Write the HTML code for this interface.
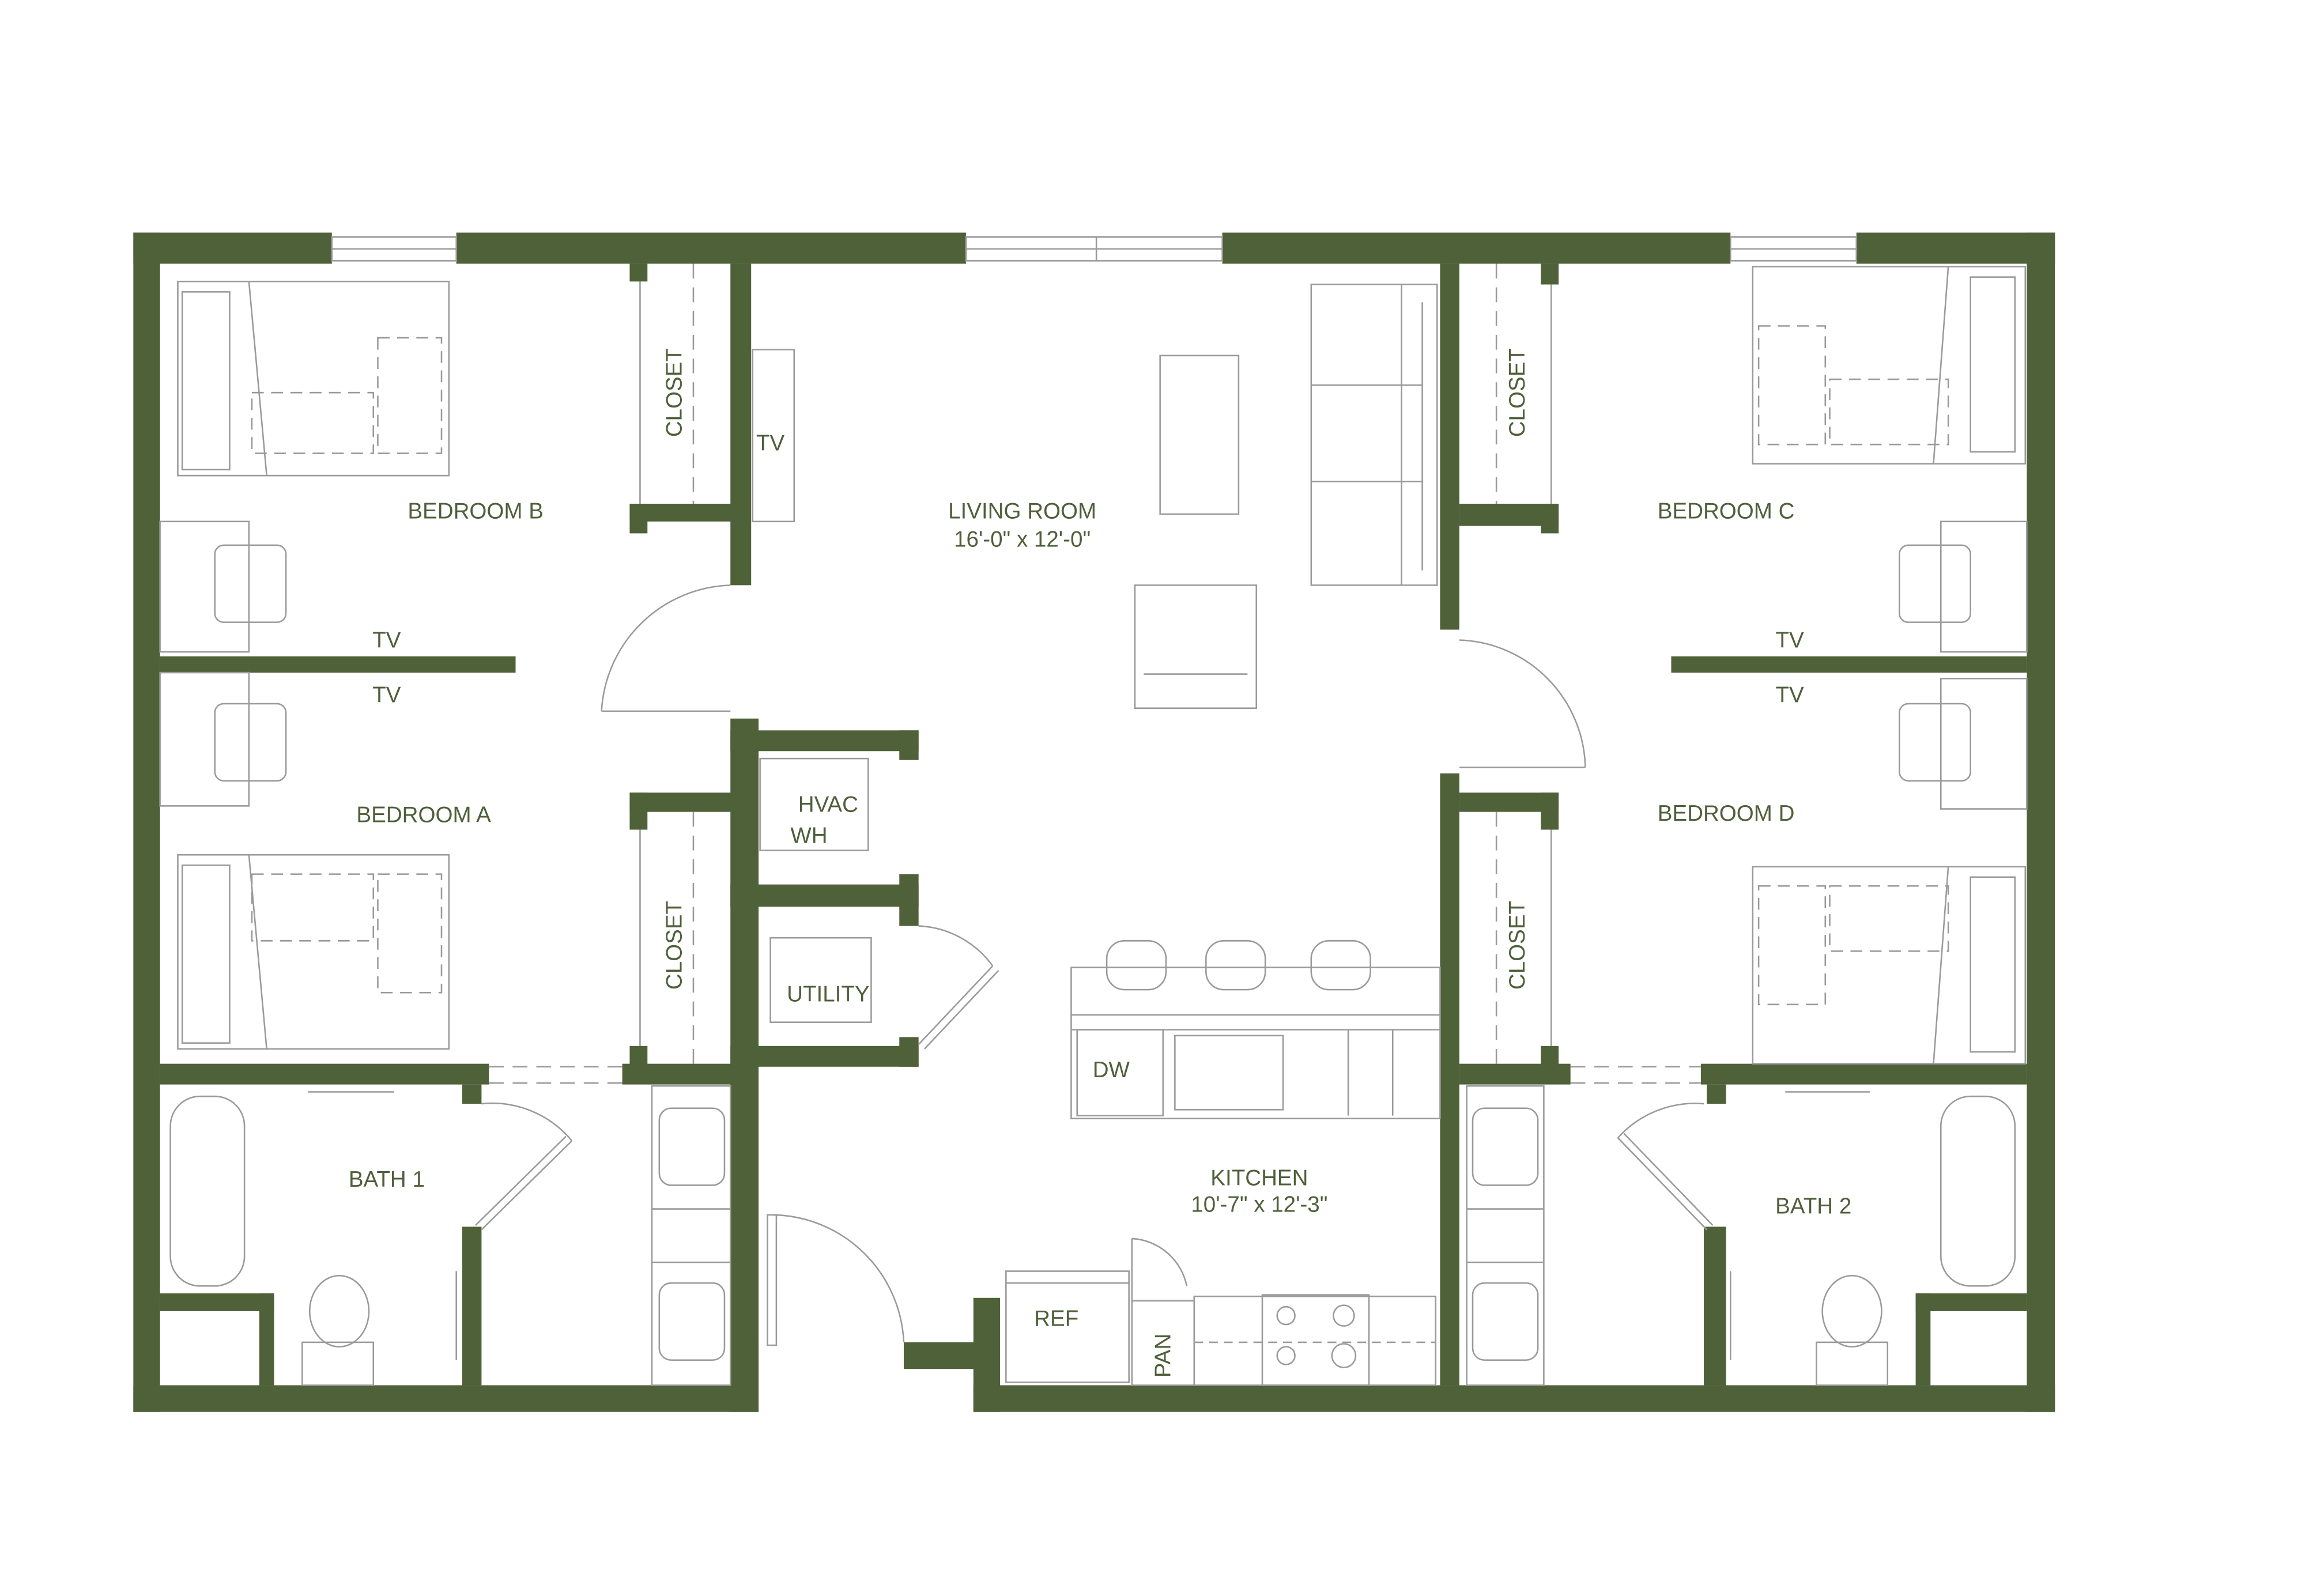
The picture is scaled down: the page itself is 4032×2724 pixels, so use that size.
<!DOCTYPE html>
<html><head><meta charset="utf-8"><style>
html,body{margin:0;padding:0;background:#fff;}
svg{display:block;}
text{font-family:"Liberation Sans",sans-serif;fill:#4e5f3a;font-size:15px;}
</style></head><body>
<svg width="4032" height="2724" viewBox="0 0 1568.6 1059.7" preserveAspectRatio="none" xmlns="http://www.w3.org/2000/svg">
<rect width="1569" height="1060" fill="#fff"/>
<g fill="#4f6139">
<rect x="90" y="157" width="134" height="21"/>
<rect x="308" y="157" width="344" height="21"/>
<rect x="825" y="157" width="343" height="21"/>
<rect x="1253" y="157" width="134" height="21"/>
<rect x="90" y="157" width="18" height="796"/>
<rect x="1368" y="157" width="19" height="796"/>
<rect x="90" y="935" width="422" height="18"/>
<rect x="657" y="935" width="730" height="18"/>
<rect x="657" y="876" width="18" height="77"/>
<rect x="610" y="906" width="50" height="18"/>
<rect x="493" y="906" width="19" height="47"/>
<rect x="493" y="178" width="14" height="217"/>
<rect x="493" y="485" width="19" height="450"/>
<rect x="425" y="178" width="12" height="12"/>
<rect x="425" y="340" width="12" height="20"/>
<rect x="425" y="340" width="80" height="12"/>
<rect x="108" y="443" width="240" height="11"/>
<rect x="425" y="535" width="80" height="13"/>
<rect x="425" y="535" width="12" height="25"/>
<rect x="425" y="706" width="12" height="14"/>
<rect x="108" y="718" width="222" height="14"/>
<rect x="420" y="718" width="85" height="14"/>
<rect x="312" y="732" width="13" height="13"/>
<rect x="312" y="828" width="13" height="107"/>
<rect x="108" y="873" width="77" height="12"/>
<rect x="175" y="873" width="10" height="62"/>
<rect x="493" y="493" width="127" height="14"/>
<rect x="493" y="597" width="127" height="15"/>
<rect x="493" y="706" width="127" height="14"/>
<rect x="607" y="493" width="13" height="20"/>
<rect x="607" y="590" width="13" height="35"/>
<rect x="607" y="700" width="13" height="20"/>
<rect x="972" y="178" width="13" height="247"/>
<rect x="972" y="522" width="13" height="413"/>
<rect x="1040" y="178" width="12" height="14"/>
<rect x="1040" y="340" width="12" height="20"/>
<rect x="985" y="340" width="67" height="15"/>
<rect x="1128" y="443" width="240" height="11"/>
<rect x="985" y="535" width="67" height="13"/>
<rect x="1040" y="535" width="12" height="25"/>
<rect x="1040" y="706" width="12" height="14"/>
<rect x="985" y="718" width="75" height="14"/>
<rect x="1148" y="718" width="220" height="14"/>
<rect x="1152" y="732" width="13" height="13"/>
<rect x="1150" y="828" width="15" height="107"/>
<rect x="1293" y="873" width="75" height="12"/>
<rect x="1293" y="873" width="10" height="62"/>
</g>
<g fill="none" stroke="#9a9a9a" stroke-width="1">
<rect x="224" y="160" width="84" height="16"/><line x1="224" y1="168" x2="308" y2="168"/>
<rect x="652" y="160" width="173" height="16"/><line x1="652" y1="168" x2="825" y2="168"/><line x1="740" y1="160" x2="740" y2="176"/>
<rect x="1168" y="160" width="85" height="16"/><line x1="1168" y1="168" x2="1253" y2="168"/>
<rect x="120" y="190" width="183" height="131"/><rect x="123" y="197" width="32" height="120"/><line x1="168" y1="190" x2="180" y2="321"/>
<g stroke-dasharray="8 5"><rect x="170" y="265" width="82" height="41"/><rect x="255" y="228" width="43" height="78"/></g>
<rect x="108" y="352" width="60" height="88"/><rect x="145" y="368" width="48" height="52" rx="6"/>
<rect x="508" y="236" width="28" height="116"/>
<rect x="108" y="454" width="60" height="90"/><rect x="145" y="475" width="48" height="52" rx="6"/>
<rect x="120" y="577" width="183" height="131"/><rect x="123" y="584" width="32" height="120"/><line x1="168" y1="577" x2="180" y2="708"/>
<g stroke-dasharray="8 5"><rect x="170" y="590" width="82" height="45"/><rect x="255" y="590" width="43" height="80"/></g>
<rect x="1183" y="180" width="184" height="133"/><rect x="1330" y="187" width="30" height="118"/><line x1="1315" y1="180" x2="1305" y2="313"/>
<g stroke-dasharray="8 5"><rect x="1187" y="220" width="45" height="80"/><rect x="1235" y="256" width="80" height="44"/></g>
<rect x="1310" y="352" width="58" height="88"/><rect x="1282" y="368" width="48" height="52" rx="6"/>
<rect x="1310" y="458" width="58" height="88"/><rect x="1282" y="475" width="48" height="52" rx="6"/>
<rect x="1183" y="585" width="184" height="133"/><rect x="1330" y="592" width="30" height="118"/><line x1="1315" y1="585" x2="1305" y2="718"/>
<g stroke-dasharray="8 5"><rect x="1187" y="598" width="45" height="80"/><rect x="1235" y="598" width="80" height="44"/></g>
<rect x="783" y="240" width="53" height="107"/>
<rect x="885" y="192" width="85" height="203"/><line x1="885" y1="260" x2="960" y2="260"/><line x1="885" y1="325" x2="960" y2="325"/><line x1="946" y1="192" x2="946" y2="395"/><line x1="960" y1="204" x2="960" y2="385"/>
<rect x="766" y="395" width="82" height="83"/><line x1="772" y1="455" x2="842" y2="455"/>
<path d="M493 395 A90 90 0 0 0 406 480"/><line x1="406" y1="480" x2="493" y2="480"/>
<path d="M985 432 A88 88 0 0 1 1070 518"/><line x1="985" y1="518" x2="1070" y2="518"/>
<path d="M522 820 A90 90 0 0 1 610 906"/><rect x="518" y="820" width="6" height="88"/>
<path d="M620 625 A65 65 0 0 1 670 652"/><line x1="620" y1="705" x2="670" y2="652"/><line x1="624" y1="708" x2="674" y2="655"/>
<path d="M325 745 A70 70 0 0 1 386 770"/><line x1="325" y1="830" x2="386" y2="770"/><line x1="321" y1="827" x2="382" y2="767"/>
<path d="M1150 745 A70 70 0 0 0 1092 768"/><line x1="1152" y1="830" x2="1092" y2="768"/><line x1="1156" y1="827" x2="1096" y2="765"/>
<line x1="432" y1="190" x2="432" y2="340"/><line x1="468" y1="178" x2="468" y2="340" stroke-dasharray="10 6"/>
<line x1="432" y1="560" x2="432" y2="706"/><line x1="468" y1="548" x2="468" y2="718" stroke-dasharray="10 6"/>
<line x1="1047" y1="192" x2="1047" y2="340"/><line x1="1010" y1="178" x2="1010" y2="340" stroke-dasharray="10 6"/>
<line x1="1047" y1="560" x2="1047" y2="706"/><line x1="1010" y1="548" x2="1010" y2="718" stroke-dasharray="10 6"/>
<line x1="330" y1="720" x2="420" y2="720" stroke-dasharray="10 6"/><line x1="330" y1="731" x2="420" y2="731" stroke-dasharray="10 6"/>
<line x1="1060" y1="720" x2="1148" y2="720" stroke-dasharray="10 6"/><line x1="1060" y1="731" x2="1148" y2="731" stroke-dasharray="10 6"/>
<rect x="513" y="512" width="73" height="62"/><rect x="520" y="633" width="68" height="57"/>
<rect x="115" y="740" width="50" height="128" rx="20"/><rect x="440" y="733" width="53" height="202"/>
<rect x="445" y="748" width="44" height="52" rx="8"/><rect x="445" y="866" width="44" height="52" rx="8"/>
<line x1="440" y1="816" x2="493" y2="816"/><line x1="440" y1="852" x2="493" y2="852"/>
<ellipse cx="229" cy="885" rx="20" ry="24"/><rect x="204" y="906" width="48" height="29"/>
<line x1="208" y1="737" x2="266" y2="737"/><line x1="308" y1="858" x2="308" y2="918"/>
<rect x="1310" y="740" width="50" height="128" rx="20"/><rect x="990" y="733" width="52" height="202"/>
<rect x="994" y="748" width="44" height="52" rx="8"/><rect x="994" y="866" width="44" height="52" rx="8"/>
<line x1="990" y1="816" x2="1042" y2="816"/><line x1="990" y1="852" x2="1042" y2="852"/>
<ellipse cx="1250" cy="885" rx="20" ry="24"/><rect x="1226" y="906" width="48" height="29"/>
<line x1="1205" y1="737" x2="1262" y2="737"/><line x1="1168" y1="858" x2="1168" y2="918"/>
<rect x="723" y="653" width="249" height="102"/><line x1="723" y1="685" x2="972" y2="685"/><line x1="723" y1="695" x2="972" y2="695"/>
<rect x="727" y="695" width="58" height="58"/><rect x="793" y="699" width="73" height="50"/>
<line x1="910" y1="695" x2="910" y2="753"/><line x1="940" y1="695" x2="940" y2="753"/>
<rect x="747" y="635" width="40" height="33" rx="12"/><rect x="814" y="635" width="40" height="33" rx="12"/><rect x="885" y="635" width="40" height="33" rx="12"/>
<rect x="679" y="858" width="83" height="75"/><line x1="679" y1="866" x2="762" y2="866"/>
<rect x="764" y="878" width="42" height="57"/>
<rect x="806" y="875" width="163" height="60"/><rect x="852" y="874" width="72" height="61"/>
<circle cx="868" cy="888" r="6"/><circle cx="907" cy="888" r="7"/><circle cx="868" cy="915" r="6"/><circle cx="907" cy="915" r="8"/>
<line x1="806" y1="906" x2="969" y2="906" stroke-dasharray="6 4"/>
<path d="M764 836 L764 880 M764 836 A40 40 0 0 1 801 868"/>
</g>
<g>
<text x="321" y="350" text-anchor="middle">BEDROOM B</text>
<text x="261" y="437" text-anchor="middle">TV</text>
<text x="261" y="474" text-anchor="middle">TV</text>
<text x="286" y="555" text-anchor="middle">BEDROOM A</text>
<text x="261" y="801" text-anchor="middle">BATH 1</text>
<text x="520" y="304" text-anchor="middle">TV</text>
<text x="690" y="350" text-anchor="middle">LIVING ROOM</text>
<text x="690" y="369" text-anchor="middle">16'-0" x 12'-0"</text>
<text x="559" y="548" text-anchor="middle">HVAC</text>
<text x="546" y="569" text-anchor="middle">WH</text>
<text x="559" y="676" text-anchor="middle">UTILITY</text>
<text x="750" y="727" text-anchor="middle">DW</text>
<text x="850" y="800" text-anchor="middle">KITCHEN</text>
<text x="850" y="818" text-anchor="middle">10'-7" x 12'-3"</text>
<text x="713" y="895" text-anchor="middle">REF</text>
<text transform="translate(790,915) rotate(-90)" text-anchor="middle">PAN</text>
<text transform="translate(460,265) rotate(-90)" text-anchor="middle">CLOSET</text>
<text transform="translate(460,638) rotate(-90)" text-anchor="middle">CLOSET</text>
<text transform="translate(1029,265) rotate(-90)" text-anchor="middle">CLOSET</text>
<text transform="translate(1029,638) rotate(-90)" text-anchor="middle">CLOSET</text>
<text x="1165" y="350" text-anchor="middle">BEDROOM C</text>
<text x="1208" y="437" text-anchor="middle">TV</text>
<text x="1208" y="474" text-anchor="middle">TV</text>
<text x="1165" y="554" text-anchor="middle">BEDROOM D</text>
<text x="1224" y="819" text-anchor="middle">BATH 2</text>
</g>
</svg>
</body></html>
